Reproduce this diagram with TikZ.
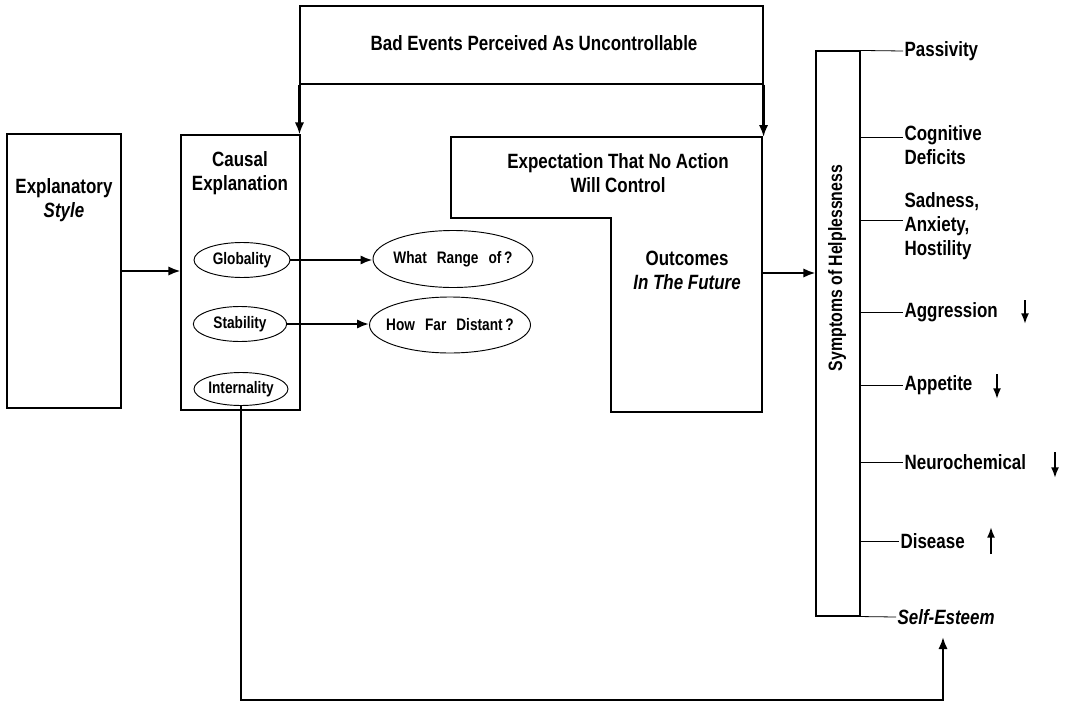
\documentclass[tikz,border=0pt]{standalone}
\usepackage{fontspec}
\setmainfont[FakeStretch=0.82]{Liberation Sans}
\usetikzlibrary{shapes.geometric,arrows.meta}
\begin{document}
\begin{tikzpicture}[x=0.75pt,y=-0.75pt,
  boxline/.style={draw, line width=0.8pt},
  tbox/.style={boxline, rectangle, inner sep=0pt},
  head/.style={font=\bfseries\fontsize{15.5}{18}\selectfont, align=center, inner sep=0pt},
  ell/.style={ellipse, draw, line width=0.7pt, inner sep=0pt},
  etext/.style={font=\bfseries\fontsize{12.5}{14}\selectfont, inner sep=0pt},
  arr/.style={-{Latex[length=9pt,width=7pt]}, line width=1.7pt},
  smallarr/.style={-{Latex[length=8pt,width=6pt]}, line width=1.4pt},
  tick/.style={line width=0.6pt},
  sym/.style={font=\bfseries\fontsize{15.5}{18}\selectfont, align=left, anchor=west, inner sep=1pt}]
\fill[white] (0,0) rectangle (1066,710);
\useasboundingbox (0,0) rectangle (1066,710);

% Explanatory style
\node[tbox, minimum width=85.5pt, minimum height=205.5pt] (expl) at (64,271) {};
\node[head] (explt) at (64,200) {Explanatory\\\itshape Style};

% Causal explanation
\node[tbox, minimum width=89.25pt, minimum height=206.25pt] (causal) at (240.5,272.5) {};
\node[head] (causalt) at (240,173) {Causal\\Explanation};

\node[ell, minimum width=72pt, minimum height=26.25pt,
  label={[etext]center:Globality}] (glob) at (242,260) {};
\node[ell, minimum width=70pt, minimum height=26.25pt,
  label={[etext]center:Stability}] (stab) at (240,324) {};
\node[ell, minimum width=70.5pt, minimum height=24.75pt,
  label={[etext]center:Internality}] (intern) at (241,389) {};

\node[ell, minimum width=120pt, minimum height=42.75pt,
  label={[etext]center:What\hspace{0.6em}Range\hspace{0.6em}of\,?}] (range) at (453,259) {};
\node[ell, minimum width=120.75pt, minimum height=42pt,
  label={[etext]center:How\hspace{0.6em}Far\hspace{0.6em}Distant\,?}] (dist) at (450,325) {};

% Top box
\node[tbox, minimum width=347.25pt, minimum height=58.5pt] (top) at (531.5,45) {};
\node[head] (topt) at (534,43) {Bad Events Perceived As Uncontrollable};

% Expectation L-shape
\coordinate (expTL) at (451,137);
\coordinate (expTR) at (762,137);
\coordinate (expR) at (762,273);
\draw[boxline] (expTL) -- (expTR) -- (762,412) -- (611,412) -- (611,218) -- (451,218) -- cycle;
\node[head] (expt1) at (618,173) {Expectation That No Action\\Will Control};
\node[head] (expt2) at (687,270) {Outcomes\\\itshape In The Future};

% Symptoms bar
\node[tbox, minimum width=33pt, minimum height=423.75pt] (bar) at (838,333.5) {};
\node[font=\bfseries\fontsize{14.5}{17}\selectfont, rotate=90, inner sep=0pt] (bart) at (837,268) {Symptoms of Helplessness};

% Symptom labels
\node[sym] (pass) at (903,51) {Passivity};
\node[sym] (cog) at (903,145) {Cognitive\\Deficits};
\coordinate (cogc) at (903,137);
\node[sym] (sad) at (903,226) {Sadness,\\Anxiety,\\Hostility};
\coordinate (sadc) at (903,220);
\node[sym] (aggr) at (903,312) {Aggression};
\node[sym] (app) at (903,385) {Appetite};
\node[sym] (neuro) at (903,462) {Neurochemical};
\node[sym] (dis) at (899,541) {Disease};
\node[sym, font=\bfseries\itshape\fontsize{15.5}{18}\selectfont] (self) at (896,617) {Self-Esteem};

\draw[tick] (bar.north east) -- (pass.west);
\draw[tick] (cogc -| bar.east) -- (cogc);
\draw[tick] (sadc -| bar.east) -- (sadc);
\draw[tick] (aggr.west -| bar.east) -- (aggr.west);
\draw[tick] (app.west -| bar.east) -- (app.west);
\draw[tick] (neuro.west -| bar.east) -- (neuro.west);
\draw[tick] (dis.west -| bar.east) -- (dis.west);
\draw[tick] (bar.south east) -- (self.west);

% small trend arrows
\draw[smallarr] (1025,300) -- (1025,324);
\draw[smallarr] (997,374) -- (997,399);
\draw[smallarr] (1055,452) -- (1055,478);
\draw[smallarr] (991,554) -- (991,527);

% Connectors
\draw[arr] (expl.east) -- (expl.east -| causal.west);
\draw[arr] (top.south west) -- (top.south west |- causal.north);
\draw[arr] (top.south east) -- (top.south east |- expTR);
\draw[arr] (glob.east) -- (glob.east -| range.west);
\draw[arr] (stab.east) -- (stab.east -| dist.west);
\draw[arr] (expR) -- (expR -| bar.west);
\coordinate (fb) at (241,700);
\coordinate (setip) at (943,637);
\draw[arr] (intern.south) -- (intern.south |- fb) -- (setip |- fb) -- (setip);
\end{tikzpicture}
\end{document}
